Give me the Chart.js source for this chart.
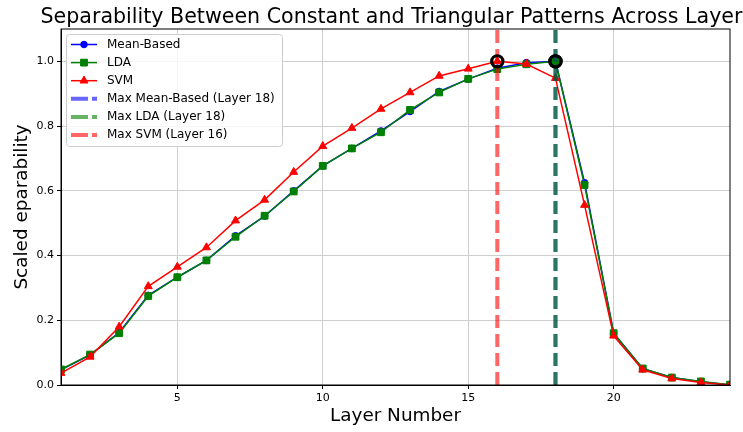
<!DOCTYPE html>
<html><head><meta charset="utf-8">
<script src="https://cdn.jsdelivr.net/npm/chart.js@4.4.1/dist/chart.umd.min.js"></script>
<style>html,body{margin:0;padding:0;background:#fff;overflow:hidden}</style>
</head><body>
<canvas id="c" width="743" height="432" style="display:block;width:743px;height:432px"></canvas>
<script>
// ---- data ----
const layers = [1,2,3,4,5,6,7,8,9,10,11,12,13,14,15,16,17,18,19,20,21,22,23,24];
const meanBased = [0.047,0.093,0.162,0.277,0.333,0.385,0.461,0.522,0.600,0.677,0.731,0.785,0.845,0.907,0.945,0.979,0.996,1.000,0.625,0.160,0.050,0.023,0.010,0.000];
const lda       = [0.048,0.094,0.160,0.275,0.333,0.385,0.458,0.523,0.598,0.677,0.731,0.781,0.850,0.904,0.946,0.976,0.991,1.000,0.618,0.160,0.051,0.023,0.011,0.001];
const svm       = [0.037,0.087,0.180,0.305,0.365,0.425,0.508,0.572,0.658,0.738,0.794,0.853,0.904,0.955,0.977,1.000,0.992,0.948,0.556,0.152,0.047,0.020,0.008,0.000];
const seriesNames = ['Mean-Based','LDA','SVM'];
const xTicks = [5,10,15,20];
const yTicks = [0.0,0.2,0.4,0.6,0.8,1.0];
const xRange = [1,24];
const yRange = [0,1.1];
const titleText = 'Separability Between Constant and Triangular Patterns Across Layer';
const xTitle = 'Layer Number';
const yTitle = 'Scaled eparability';

// ---- styles ----
const FONT = '"DejaVu Sans", Verdana, sans-serif';
const colors = ['#0000ff','#008000','#ff0000'];
const vColors = ['rgba(0,0,255,0.6)','rgba(0,128,0,0.6)','rgba(255,0,0,0.6)'];
const pStyles = ['circle','rect','triangle'];
const pRadius = [3.3,4.8,4.6];
const DASH = [13,6];

const series = [meanBased, lda, svm];
const maxLayer = series.map(s => layers[s.indexOf(Math.max(...s))]);
const maxVal = series.map(s => Math.max(...s));

const datasets = [];
series.forEach((s,i) => {
  datasets.push({
    type:'line', label: seriesNames[i],
    data: layers.map((l,j)=>({x:l,y:s[j]})),
    borderColor: colors[i], backgroundColor: colors[i],
    borderWidth: 1.5, pointStyle: pStyles[i], pointRadius: pRadius[i],
    pointBorderWidth: 1, pointBorderColor: colors[i], pointBackgroundColor: colors[i],
    order: 10 - i
  });
});
series.forEach((s,i) => {
  datasets.push({
    type:'line', label: 'Max ' + seriesNames[i] + ' (Layer ' + maxLayer[i] + ')',
    data: [{x:maxLayer[i], y:yRange[0]}, {x:maxLayer[i], y:yRange[1]}],
    borderColor: vColors[i], borderWidth: 4, borderDash: DASH,
    pointRadius: 0, order: 5 - i
  });
});
series.forEach((s,i) => {
  datasets.push({
    type:'scatter', label: '',
    data: [{x:maxLayer[i], y:maxVal[i]}],
    pointRadius: 5.6, pointBorderWidth: 3.2, pointBorderColor:'#000',
    pointBackgroundColor:'rgba(0,0,0,0)', order: 1
  });
});

const framePlugin = {
  id:'frame',
  afterDraw(chart){
    const {ctx, chartArea:a} = chart;
    ctx.save();
    ctx.strokeStyle = '#000'; ctx.lineWidth = 1;
    ctx.strokeRect(a.left, a.top, a.right - a.left, a.bottom - a.top);
    // title
    ctx.fillStyle = '#000';
    ctx.font = '20.6px ' + FONT;
    ctx.textBaseline = 'alphabetic'; ctx.textAlign = 'left';
    ctx.fillText(titleText, 40.5, 23);
    // legend
    const bx = 66.5, by = 34.5, bw = 216, bh = 112;
    ctx.beginPath();
    if (ctx.roundRect) ctx.roundRect(bx, by, bw, bh, 3); else ctx.rect(bx,by,bw,bh);
    ctx.fillStyle = 'rgba(255,255,255,0.8)'; ctx.fill();
    ctx.strokeStyle = '#cccccc'; ctx.lineWidth = 1; ctx.stroke();
    const rowY = [44.5, 62.6, 80.7, 98.8, 116.9, 135];
    ctx.font = '12px ' + FONT; ctx.textBaseline = 'middle';
    for (let i=0;i<3;i++){
      const y = rowY[i];
      ctx.strokeStyle = colors[i]; ctx.lineWidth = 1.5; ctx.setLineDash([]);
      ctx.beginPath(); ctx.moveTo(71,y); ctx.lineTo(97,y); ctx.stroke();
      ctx.fillStyle = colors[i]; ctx.strokeStyle = colors[i]; ctx.lineWidth = 1;
      Chart.helpers.drawPoint(ctx, {pointStyle:pStyles[i], radius:pRadius[i], borderWidth:1, rotation:0}, 84, y);
      ctx.fillStyle = '#000';
      ctx.fillText(seriesNames[i], 107, y);
    }
    for (let i=0;i<3;i++){
      const y = rowY[i+3];
      ctx.strokeStyle = vColors[i]; ctx.lineWidth = 4; ctx.setLineDash([17,4]);
      ctx.beginPath(); ctx.moveTo(71,y); ctx.lineTo(97,y); ctx.stroke();
      ctx.setLineDash([]);
      ctx.fillStyle = '#000';
      ctx.fillText('Max ' + seriesNames[i] + ' (Layer ' + maxLayer[i] + ')', 107, y);
    }
    ctx.restore();
  }
};

const gridColor = '#cfcfcf';
new Chart(document.getElementById('c'), {
  data: { datasets },
  options: {
    responsive:false, animation:false, devicePixelRatio:1,
    layout:{ padding:{ top:29, right:13, left:0, bottom:0 } },
    plugins:{ legend:{display:false}, tooltip:{enabled:false}, title:{display:false} },
    scales:{
      x:{
        type:'linear', min:xRange[0], max:xRange[1],
        afterBuildTicks: s => { s.ticks = xTicks.map(v=>({value:v})); },
        afterFit: s => { s.height = 47; },
        ticks:{ font:{family:FONT, size:11}, color:'#000', padding:3, maxRotation:0, autoSkip:false },
        grid:{ color:gridColor, lineWidth:1, tickLength:4, tickColor:'#000' },
        border:{ display:true, color:'#000', width:1 },
        title:{ display:true, text:xTitle, font:{family:FONT, size:18.4}, color:'#000', padding:{top:0,bottom:4.7} }
      },
      y:{
        type:'linear', min:yRange[0], max:yRange[1],
        afterBuildTicks: s => { s.ticks = yTicks.map(v=>({value:v})); },
        afterFit: s => { s.width = 61; },
        ticks:{ font:{family:FONT, size:11}, color:'#000', padding:3, callback: v => Number(v).toFixed(1), autoSkip:false },
        grid:{ color:gridColor, lineWidth:1, tickLength:4, tickColor:'#000' },
        border:{ display:true, color:'#000', width:1 },
        title:{ display:true, text:yTitle, font:{family:FONT, size:18.4}, color:'#000', padding:{top:11,bottom:0} }
      }
    }
  },
  plugins:[framePlugin]
});
</script>
</body></html>
